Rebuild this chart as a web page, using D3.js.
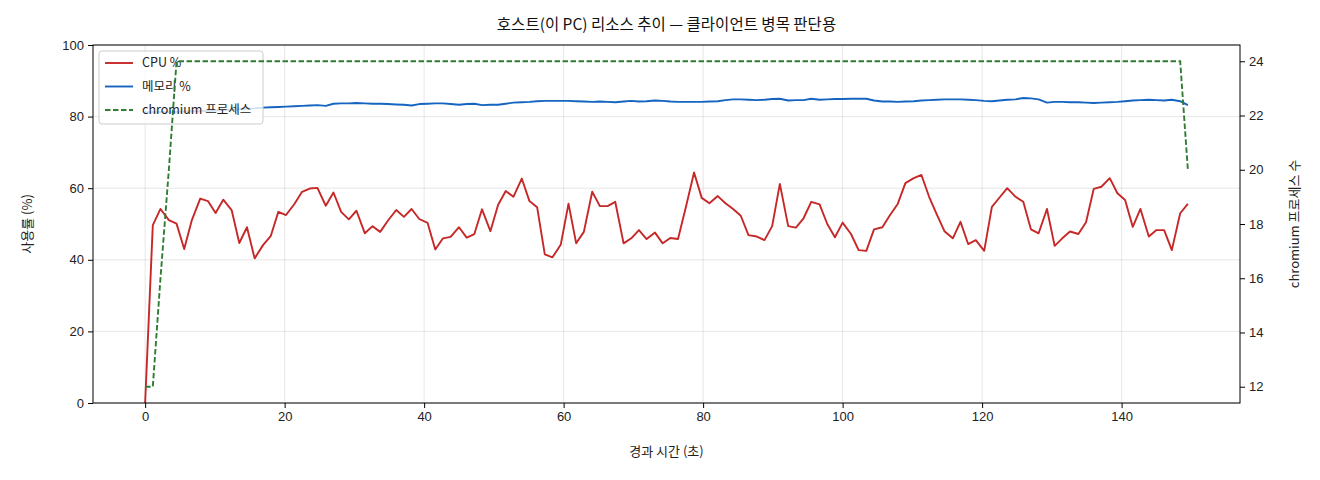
<!DOCTYPE html>
<html>
<head>
<meta charset="utf-8">
<script src="https://cdn.jsdelivr.net/npm/d3@7"></script>
<style>
  body { margin: 0; background: #fff; }
  svg { font-family: "Noto Sans CJK KR", "Noto Sans", sans-serif; }
  .grid line { stroke: #b0b0b0; stroke-opacity: 0.3; }
  .axis text { font-size: 13px; fill: #222; }
  .axis line { stroke: #000; }
  .axis .domain { display: none; }
</style>
</head>
<body>
<svg width="1320" height="480"></svg>
<script>
// elapsed seconds of each sample
var times = [
  0, 1.1, 2.2, 3.4, 4.5, 5.6, 6.7, 7.9, 9.0, 10.1,
  11.2, 12.4, 13.5, 14.6, 15.7, 16.9, 18.0, 19.1, 20.2, 21.4,
  22.5, 23.6, 24.7, 25.9, 27.0, 28.1, 29.2, 30.3, 31.5, 32.6,
  33.7, 34.8, 36.0, 37.1, 38.2, 39.3, 40.5, 41.6, 42.7, 43.8,
  45.0, 46.1, 47.2, 48.3, 49.5, 50.6, 51.7, 52.8, 54.0, 55.1,
  56.2, 57.3, 58.4, 59.6, 60.7, 61.8, 62.9, 64.1, 65.2, 66.3,
  67.4, 68.6, 69.7, 70.8, 71.9, 73.1, 74.2, 75.3, 76.4, 77.6,
  78.7, 79.8, 80.9, 82.1, 83.2, 84.3, 85.4, 86.5, 87.7, 88.8,
  89.9, 91.0, 92.2, 93.3, 94.4, 95.5, 96.7, 97.8, 98.9, 100.0,
  101.2, 102.3, 103.4, 104.5, 105.7, 106.8, 107.9, 109.0, 110.2, 111.3,
  112.4, 113.5, 114.6, 115.8, 116.9, 118.0, 119.1, 120.3, 121.4, 122.5,
  123.6, 124.8, 125.9, 127.0, 128.1, 129.3, 130.4, 131.5, 132.6, 133.8,
  134.9, 136.0, 137.1, 138.3, 139.4, 140.5, 141.6, 142.7, 143.9, 145.0,
  146.1, 147.2, 148.4, 149.5
];

var cpu = [
  0, 49.7, 54.2, 51.1, 50.1, 43.0, 51.1, 57.1, 56.4, 53.1,
  56.8, 53.9, 44.7, 49.1, 40.4, 44.1, 46.6, 53.4, 52.5, 55.6,
  59.0, 59.9, 60.1, 55.1, 58.8, 53.4, 51.3, 53.7, 47.4, 49.4,
  47.8, 50.9, 53.9, 52.0, 54.2, 51.4, 50.3, 42.9, 46.0, 46.4,
  49.1, 46.2, 47.2, 54.1, 48.0, 55.3, 59.2, 57.6, 62.7, 56.4,
  54.7, 41.5, 40.7, 44.3, 55.7, 44.6, 47.8, 59.0, 55.0, 55.0,
  56.2, 44.6, 46.0, 48.3, 45.8, 47.6, 44.6, 46.1, 45.8, 55.3,
  64.4, 57.3, 55.8, 57.8, 55.8, 54.2, 52.3, 46.9, 46.5, 45.5,
  49.4, 61.2, 49.4, 49.0, 51.6, 56.2, 55.5, 50.0, 46.3, 50.4,
  47.2, 42.7, 42.5, 48.5, 49.1, 52.5, 55.6, 61.4, 62.8, 63.7,
  57.6, 52.7, 48.0, 46.0, 50.6, 44.4, 45.5, 42.5, 54.8, 57.4,
  60.0, 57.6, 56.2, 48.5, 47.4, 54.2, 43.9, 46.0, 47.9, 47.2,
  50.5, 59.8, 60.4, 62.8, 58.6, 56.7, 49.2, 54.2, 46.5, 48.3,
  48.3, 42.7, 53.0, 55.6
];

var mem = [
  81.2, 81.2, 81.3, 81.2, 81.3, 81.4, 81.5, 81.5, 81.6, 81.7,
  81.8, 81.9, 82.1, 82.2, 82.3, 82.5, 82.6, 82.7, 82.8, 82.9,
  83.0, 83.1, 83.2, 83.0, 83.6, 83.7, 83.7, 83.8, 83.7, 83.6,
  83.6, 83.5, 83.4, 83.3, 83.1, 83.5, 83.6, 83.7, 83.7, 83.5,
  83.3, 83.5, 83.6, 83.2, 83.3, 83.3, 83.6, 83.9, 84.0, 84.1,
  84.3, 84.4, 84.4, 84.4, 84.4, 84.3, 84.2, 84.1, 84.2, 84.1,
  84.0, 84.2, 84.4, 84.2, 84.3, 84.5, 84.4, 84.2, 84.1, 84.1,
  84.1, 84.1, 84.2, 84.3, 84.6, 84.8, 84.8, 84.7, 84.6, 84.7,
  84.9, 85.0, 84.5, 84.6, 84.6, 85.0, 84.7, 84.8, 84.9, 84.9,
  85.0, 85.0, 85.0, 84.5, 84.2, 84.2, 84.1, 84.2, 84.3, 84.5,
  84.6, 84.7, 84.8, 84.8, 84.8, 84.7, 84.6, 84.4, 84.3, 84.5,
  84.7, 84.8, 85.2, 85.1, 84.8, 83.9, 84.1, 84.1, 84.0, 84.0,
  83.9, 83.8, 83.9, 84.0, 84.1, 84.3, 84.5, 84.6, 84.7, 84.6,
  84.5, 84.7, 84.3, 83.2
];

var procs = [
  12, 12, 16, 20,
  24, 24, 24, 24, 24, 24, 24, 24, 24, 24, 24, 24, 24, 24, 24, 24, 24, 24, 24, 24,
  24, 24, 24, 24, 24, 24, 24, 24, 24, 24, 24, 24, 24, 24, 24, 24, 24, 24, 24, 24,
  24, 24, 24, 24, 24, 24, 24, 24, 24, 24, 24, 24, 24, 24, 24, 24, 24, 24, 24, 24,
  24, 24, 24, 24, 24, 24, 24, 24, 24, 24, 24, 24, 24, 24, 24, 24, 24, 24, 24, 24,
  24, 24, 24, 24, 24, 24, 24, 24, 24, 24, 24, 24, 24, 24, 24, 24, 24, 24, 24, 24,
  24, 24, 24, 24, 24, 24, 24, 24, 24, 24, 24, 24, 24, 24, 24, 24, 24, 24, 24, 24,
  24, 24, 24, 24, 24, 24, 24, 24, 24,
  20
];

var xTicks = [0, 20, 40, 60, 80, 100, 120, 140];
var yTicks = [0, 20, 40, 60, 80, 100];
var y2Ticks = [12, 14, 16, 18, 20, 22, 24];

var svg = d3.select("svg"),
    margin = { top: 45, right: 80, bottom: 77, left: 93 },
    width = +svg.attr("width") - margin.left - margin.right,
    height = +svg.attr("height") - margin.top - margin.bottom,
    g = svg.append("g").attr("transform", "translate(" + margin.left + "," + margin.top + ")");

var data = times.map(function(t, i) {
    return { t: t, cpu: cpu[i], mem: mem[i], procs: procs[i] };
});

// matplotlib style 5% padding
var tExt = d3.extent(times), tPad = (tExt[1] - tExt[0]) * 0.05;
var x = d3.scaleLinear().domain([tExt[0] - tPad, tExt[1] + tPad]).range([0, width]);
var y = d3.scaleLinear().domain([0, 100]).range([height, 0]);
var pExt = d3.extent(procs), pPad = (pExt[1] - pExt[0]) * 0.05;
var y2 = d3.scaleLinear().domain([pExt[0] - pPad, pExt[1] + pPad]).range([height, 0]);

// grid
g.append("g").attr("class", "grid")
    .selectAll("line").data(xTicks).enter().append("line")
    .attr("x1", function(d) { return x(d); }).attr("x2", function(d) { return x(d); })
    .attr("y1", 0).attr("y2", height);
g.append("g").attr("class", "grid")
    .selectAll("line").data(yTicks).enter().append("line")
    .attr("x1", 0).attr("x2", width)
    .attr("y1", function(d) { return y(d); }).attr("y2", function(d) { return y(d); });

var lineCpu = d3.line().x(function(d) { return x(d.t); }).y(function(d) { return y(d.cpu); });
var lineMem = d3.line().x(function(d) { return x(d.t); }).y(function(d) { return y(d.mem); });
var lineProcs = d3.line().x(function(d) { return x(d.t); }).y(function(d) { return y2(d.procs); });

g.append("path").datum(data)
    .attr("fill", "none").attr("stroke", "#c62828").attr("stroke-width", 1.9)
    .attr("stroke-linejoin", "round")
    .attr("d", lineCpu);
g.append("path").datum(data)
    .attr("fill", "none").attr("stroke", "#1565c0").attr("stroke-width", 1.9)
    .attr("stroke-linejoin", "round")
    .attr("d", lineMem);

// legend
var legendItems = [
    { label: "CPU %", color: "#c62828", dash: null },
    { label: "메모리 %", color: "#1565c0", dash: null },
    { label: "chromium 프로세스", color: "#2e7d32", dash: "5.5,2.5" }
];
var legend = g.append("g").attr("transform", "translate(6,6)");
legend.append("rect")
    .attr("width", 164).attr("height", 73).attr("rx", 3)
    .attr("fill", "#fff").attr("fill-opacity", 0.8)
    .attr("stroke", "#cccccc").attr("stroke-width", 1);
legendItems.forEach(function(d, i) {
    var ly = 12 + i * 23.5;
    legend.append("line")
        .attr("x1", 6).attr("x2", 34).attr("y1", ly).attr("y2", ly)
        .attr("stroke", d.color).attr("stroke-width", 1.9)
        .attr("stroke-dasharray", d.dash);
    legend.append("text")
        .attr("x", 43).attr("y", ly).attr("dy", "0.35em")
        .style("font-size", "12.5px").style("fill", "#222")
        .text(d.label);
});

g.append("path").datum(data)
    .attr("fill", "none").attr("stroke", "#2e7d32").attr("stroke-width", 1.9)
    .attr("stroke-dasharray", "5.5,2.5")
    .attr("d", lineProcs);

// axes
g.append("g").attr("class", "axis")
    .attr("transform", "translate(0," + height + ")")
    .call(d3.axisBottom(x).tickValues(xTicks).tickSize(5).tickPadding(4));
g.append("g").attr("class", "axis")
    .call(d3.axisLeft(y).tickValues(yTicks).tickSize(5).tickPadding(4));
g.append("g").attr("class", "axis")
    .attr("transform", "translate(" + width + ",0)")
    .call(d3.axisRight(y2).tickValues(y2Ticks).tickSize(5).tickPadding(4));

// frame
g.append("rect").attr("width", width).attr("height", height)
    .attr("fill", "none").attr("stroke", "#000").attr("stroke-width", 1);

// titles
svg.append("text")
    .attr("x", margin.left + width / 2).attr("y", 30)
    .attr("text-anchor", "middle")
    .style("font-size", "15.5px").style("fill", "#111")
    .text("호스트(이 PC) 리소스 추이 — 클라이언트 병목 판단용");
svg.append("text")
    .attr("x", margin.left + width / 2).attr("y", 456)
    .attr("text-anchor", "middle")
    .style("font-size", "13px").style("fill", "#222")
    .text("경과 시간 (초)");
svg.append("text")
    .attr("transform", "translate(32," + (margin.top + height / 2) + ") rotate(-90)")
    .attr("text-anchor", "middle")
    .style("font-size", "13px").style("fill", "#222")
    .text("사용률 (%)");
svg.append("text")
    .attr("transform", "translate(1299," + (margin.top + height / 2) + ") rotate(-90)")
    .attr("text-anchor", "middle")
    .style("font-size", "13px").style("fill", "#222")
    .text("chromium 프로세스 수");
</script>
</body>
</html>
